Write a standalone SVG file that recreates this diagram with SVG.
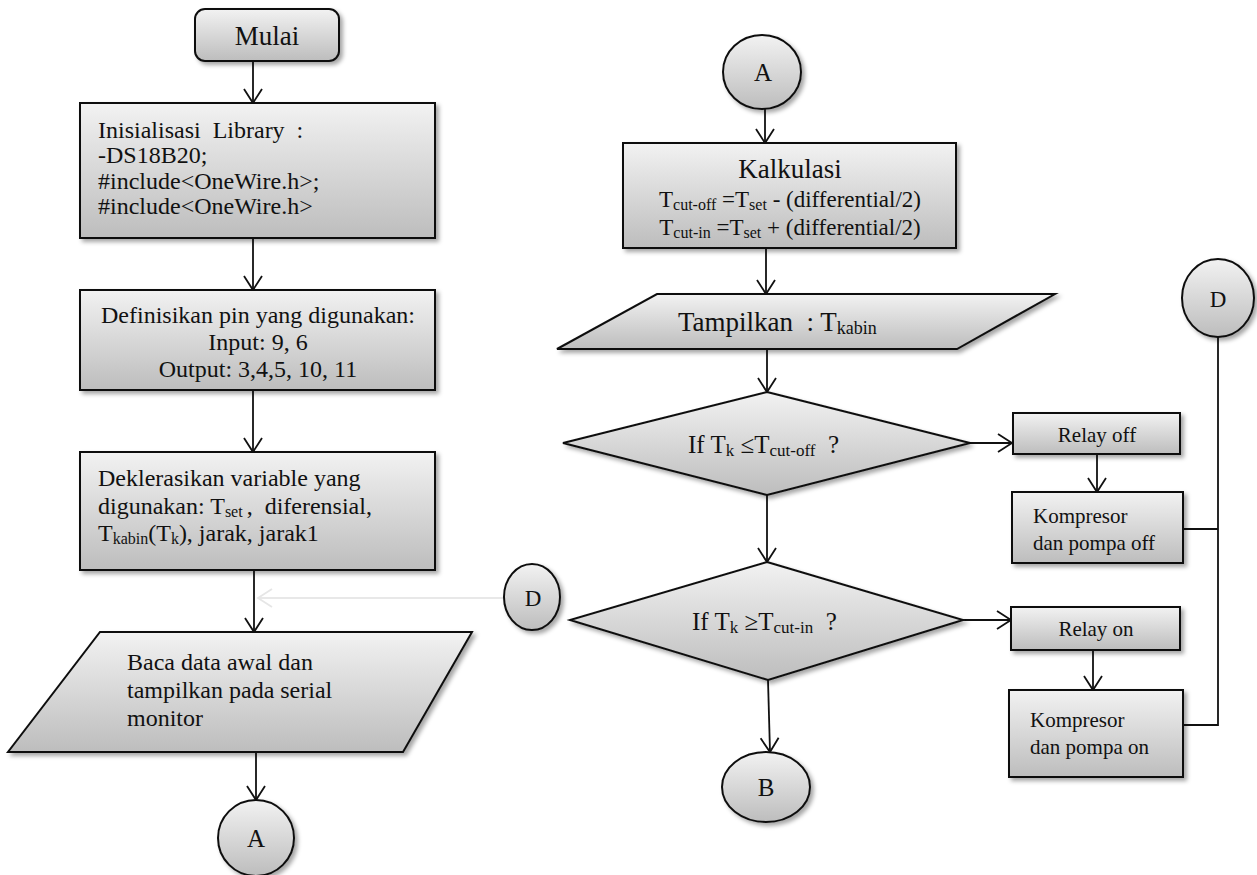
<svg xmlns="http://www.w3.org/2000/svg" width="1257" height="875" viewBox="0 0 1257 875">
<defs>
  <linearGradient id="g" x1="0" y1="0" x2="0" y2="1">
    <stop offset="0" stop-color="#f2f2f2"/>
    <stop offset="1" stop-color="#bdbdbd"/>
  </linearGradient>
  <filter id="sh" x="-10%" y="-10%" width="125%" height="130%">
    <feDropShadow dx="3" dy="3" stdDeviation="2" flood-color="#000" flood-opacity="0.35"/>
  </filter>
  <marker id="ah" markerUnits="userSpaceOnUse" markerWidth="20" markerHeight="22" refX="15" refY="10" orient="auto">
    <path d="M1,1 L15,10 L1,19" fill="none" stroke="#111" stroke-width="1.8"/>
  </marker>
  <marker id="ahf" markerUnits="userSpaceOnUse" markerWidth="20" markerHeight="22" refX="15" refY="10" orient="auto">
    <path d="M1,1 L15,10 L1,19" fill="none" stroke="#e6e6e6" stroke-width="1.8"/>
  </marker>
  <style>
    .s{fill:url(#g);stroke:#111;stroke-width:2;filter:url(#sh)}
    .t{font-family:'Liberation Serif','Times New Roman',serif;fill:#111}
    .c{stroke:#111;stroke-width:1.8;fill:none}
    .a{marker-end:url(#ah)}
  </style>
</defs>

<g id="connectors">
  <line class="c a" x1="253" y1="61" x2="253" y2="103"/>
  <line class="c a" x1="253" y1="238" x2="253" y2="290"/>
  <line class="c a" x1="253" y1="390" x2="253" y2="452"/>
  <line class="c a" x1="254" y1="570" x2="254" y2="632"/>
  <line class="c a" x1="256" y1="752" x2="256" y2="800"/>
  <line x1="504" y1="598" x2="258" y2="598" stroke="#e8e8e8" stroke-width="1.8" marker-end="url(#ahf)"/>
  <line class="c a" x1="765" y1="109" x2="765" y2="143"/>
  <line class="c a" x1="766" y1="248" x2="766" y2="294"/>
  <line class="c a" x1="767" y1="349" x2="767" y2="392"/>
  <line class="c a" x1="767" y1="495" x2="767" y2="562"/>
  <line class="c a" x1="768" y1="680" x2="770" y2="752"/>
  <line class="c a" x1="970" y1="443" x2="1012" y2="443"/>
  <line class="c a" x1="963" y1="620" x2="1011" y2="620"/>
  <line class="c a" x1="1097" y1="455" x2="1097" y2="492"/>
  <line class="c a" x1="1093" y1="651" x2="1093" y2="690"/>
  <polyline class="c" points="1218,337 1218,725 1183,725"/>
  <line class="c" x1="1183" y1="529" x2="1218" y2="529"/>
</g>

<g id="mulai">
  <rect class="s" x="195" y="9" width="144" height="52" rx="10"/>
  <text class="t" font-family="Liberation Serif" x="267" y="45" font-size="27" text-anchor="middle">Mulai</text>
</g>

<g id="init">
  <rect class="s" x="80" y="103" width="355" height="135"/>
  <text class="t" font-family="Liberation Serif" font-size="24" xml:space="preserve"><tspan x="98" y="138">Inisialisasi  Library  :</tspan><tspan x="98" y="163">-DS18B20;</tspan><tspan x="98" y="189">#include&lt;OneWire.h&gt;;</tspan><tspan x="98" y="214">#include&lt;OneWire.h&gt;</tspan></text>
</g>

<g id="pin">
  <rect class="s" x="80" y="290" width="355" height="100"/>
  <text class="t" font-family="Liberation Serif" font-size="24" text-anchor="middle"><tspan x="258" y="323">Definisikan pin yang digunakan:</tspan><tspan x="258" y="350">Input: 9, 6</tspan><tspan x="258" y="377">Output: 3,4,5, 10, 11</tspan></text>
</g>

<g id="var">
  <rect class="s" x="80" y="452" width="355" height="118"/>
  <text class="t" font-family="Liberation Serif" font-size="24" xml:space="preserve"><tspan x="98" y="486">Deklerasikan variable yang</tspan><tspan x="98" y="514">digunakan: T<tspan font-size="16" dy="3">set </tspan><tspan dy="-3">,  diferensial,</tspan></tspan><tspan x="98" y="541">T<tspan font-size="16" dy="3">kabin</tspan><tspan dy="-3">(T</tspan><tspan font-size="16" dy="3">k</tspan><tspan dy="-3">), jarak, jarak1</tspan></tspan></text>
</g>

<g id="baca">
  <polygon class="s" points="100,632 472,632 403,752 8,752"/>
  <text class="t" font-family="Liberation Serif" font-size="24"><tspan x="127" y="670">Baca data awal dan</tspan><tspan x="127" y="698">tampilkan pada serial</tspan><tspan x="127" y="726">monitor</tspan></text>
</g>

<g id="a-bottom">
  <circle class="s" cx="256" cy="838" r="38"/>
  <text class="t" font-family="Liberation Serif" x="256" y="847" font-size="25" text-anchor="middle">A</text>
</g>

<g id="d-left">
  <ellipse class="s" cx="532" cy="597" rx="28" ry="33"/>
  <text class="t" font-family="Liberation Serif" x="533" y="606" font-size="23" text-anchor="middle">D</text>
</g>

<g id="a-top">
  <ellipse class="s" cx="762" cy="72" rx="39" ry="37"/>
  <text class="t" font-family="Liberation Serif" x="763" y="81" font-size="25" text-anchor="middle">A</text>
</g>

<g id="kalkulasi">
  <rect class="s" x="623" y="143" width="333" height="105"/>
  <text class="t" font-family="Liberation Serif" x="790" y="178" font-size="27" text-anchor="middle">Kalkulasi</text>
  <text class="t" font-family="Liberation Serif" x="790" y="207" font-size="23" text-anchor="middle">T<tspan font-size="16" dy="3">cut-off</tspan><tspan dy="-3"> =T</tspan><tspan font-size="16" dy="3">set</tspan><tspan dy="-3"> - (differential/2)</tspan></text>
  <text class="t" font-family="Liberation Serif" x="790" y="235" font-size="23" text-anchor="middle">T<tspan font-size="16" dy="3">cut-in</tspan><tspan dy="-3"> =T</tspan><tspan font-size="16" dy="3">set</tspan><tspan dy="-3"> + (differential/2)</tspan></text>
</g>

<g id="tampilkan">
  <polygon class="s" points="657,294 1055,294 957,349 557,349"/>
  <text class="t" font-family="Liberation Serif" x="678" y="331" font-size="27" xml:space="preserve">Tampilkan  : T<tspan font-size="18" dy="3">kabin</tspan></text>
</g>

<g id="if-off">
  <polygon class="s" points="767,392 970,443 767,495 563,443"/>
  <text class="t" font-family="Liberation Serif" x="688" y="453" font-size="25" xml:space="preserve">If T<tspan font-size="17" dy="3">k</tspan><tspan dy="-3"> ≤T</tspan><tspan font-size="17" dy="3">cut-off</tspan><tspan dy="-3">  ?</tspan></text>
</g>

<g id="if-in">
  <polygon class="s" points="767,562 963,620 768,680 570,620"/>
  <text class="t" font-family="Liberation Serif" x="692" y="630" font-size="25" xml:space="preserve">If T<tspan font-size="17" dy="3">k</tspan><tspan dy="-3"> ≥T</tspan><tspan font-size="17" dy="3">cut-in</tspan><tspan dy="-3">  ?</tspan></text>
</g>

<g id="b">
  <ellipse class="s" cx="766" cy="787" rx="44" ry="35"/>
  <text class="t" font-family="Liberation Serif" x="766" y="796" font-size="25" text-anchor="middle">B</text>
</g>

<g id="relay-off">
  <rect class="s" x="1013" y="413" width="167" height="41"/>
  <text class="t" font-family="Liberation Serif" x="1097" y="442" font-size="21" text-anchor="middle">Relay off</text>
</g>

<g id="komp-off">
  <rect class="s" x="1012" y="492" width="171" height="71"/>
  <text class="t" font-family="Liberation Serif" font-size="21"><tspan x="1033" y="523">Kompresor</tspan><tspan x="1033" y="550">dan pompa off</tspan></text>
</g>

<g id="relay-on">
  <rect class="s" x="1011" y="607" width="169" height="43"/>
  <text class="t" font-family="Liberation Serif" x="1096" y="636" font-size="21" text-anchor="middle">Relay on</text>
</g>

<g id="komp-on">
  <rect class="s" x="1009" y="690" width="174" height="87"/>
  <text class="t" font-family="Liberation Serif" font-size="21"><tspan x="1030" y="727">Kompresor</tspan><tspan x="1030" y="754">dan pompa on</tspan></text>
</g>

<g id="d-right">
  <ellipse class="s" cx="1218" cy="298" rx="36" ry="39"/>
  <text class="t" font-family="Liberation Serif" x="1218" y="307" font-size="23" text-anchor="middle">D</text>
</g>
</svg>
